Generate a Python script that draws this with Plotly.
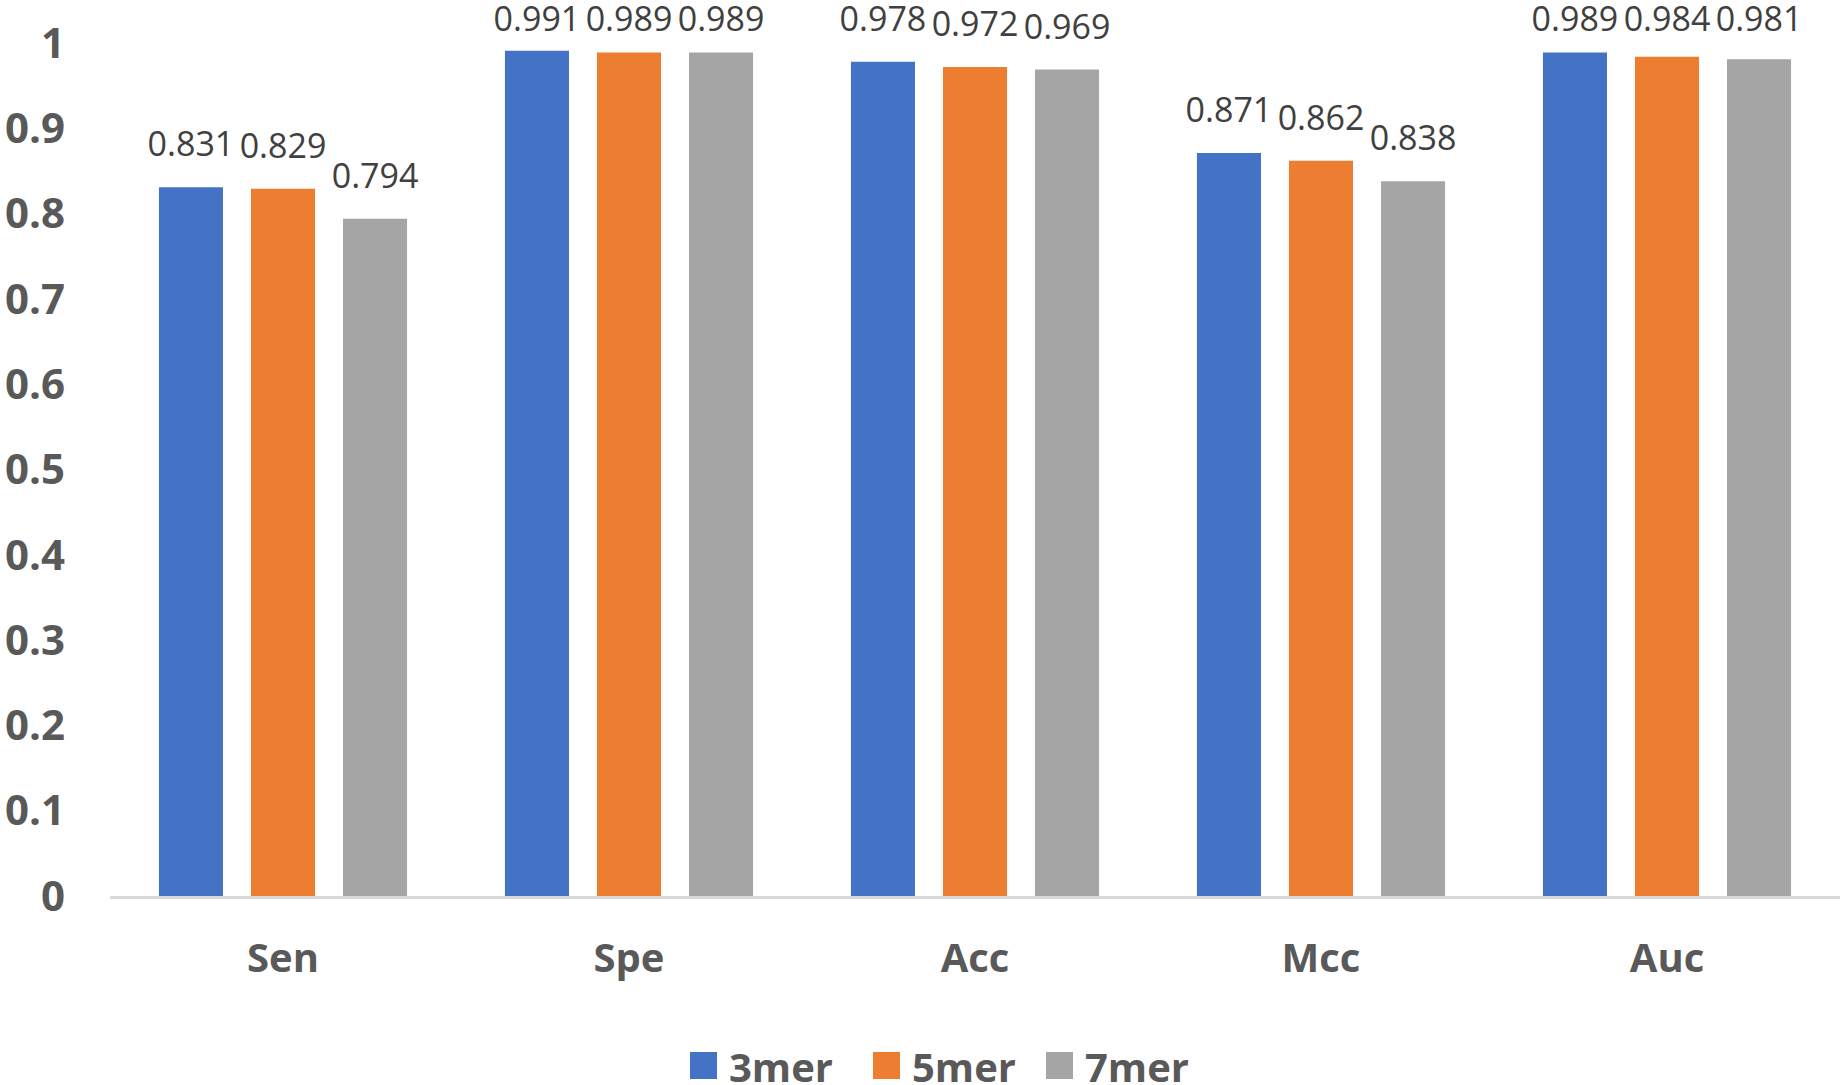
import plotly.graph_objects as go

categories = ["Sen", "Spe", "Acc", "Mcc", "Auc"]
series_names = ["3mer", "5mer", "7mer"]
vals_3mer = [0.831, 0.991, 0.978, 0.871, 0.989]
vals_5mer = [0.829, 0.989, 0.972, 0.862, 0.984]
vals_7mer = [0.794, 0.989, 0.969, 0.838, 0.981]
colors = ["#4472C4", "#ED7D31", "#A5A5A5"]
y_ticks = [0, 0.1, 0.2, 0.3, 0.4, 0.5, 0.6, 0.7, 0.8, 0.9, 1]
y_ticktext = ["0", "0.1", "0.2", "0.3", "0.4", "0.5", "0.6", "0.7", "0.8", "0.9", "1"]

FONT = "Open Sans"
W, H = 1845, 1085
ML, MR, MT, MB = 110, 5, 43, 189
PW, PH = W - ML - MR, H - MT - MB
LABEL_CAP = 0.978  # data labels are kept inside the chart area (like Excel)

fig = go.Figure()
for name, vals, col in zip(series_names, [vals_3mer, vals_5mer, vals_7mer], colors):
    fig.add_trace(go.Bar(
        x=categories, y=vals, name=name, marker=dict(color=col, line=dict(width=0)),
        offsetgroup=name, alignmentgroup="g", showlegend=False,
    ))
for name, vals in zip(series_names, [vals_3mer, vals_5mer, vals_7mer]):
    fig.add_trace(go.Scatter(
        x=categories, y=[min(v, LABEL_CAP) for v in vals], mode="markers+text",
        offsetgroup=name, alignmentgroup="g",
        text=[f"{v:.3f}" for v in vals], textposition="top center",
        textfont=dict(family=FONT, size=34, color="#404040"),
        marker=dict(size=34, opacity=0), showlegend=False, hoverinfo="skip",
        cliponaxis=False,
    ))

# manual legend (large square swatches like the reference)
legend_sq_left = [690, 873, 1046]
for name, col, sx in zip(series_names, colors, legend_sq_left):
    x0 = (sx - ML) / PW
    x1 = (sx + 27 - ML) / PW
    fig.add_shape(type="rect", xref="paper", yref="paper",
                  x0=x0, x1=x1, y0=(H - MB - 1079) / PH, y1=(H - MB - 1052) / PH,
                  fillcolor=col, line=dict(width=0))
    fig.add_annotation(xref="paper", yref="paper", x=(sx + 37 - ML) / PW,
                       y=(H - MB - 1066) / PH, xanchor="left", yanchor="middle",
                       text=name, showarrow=False,
                       font=dict(family=FONT, size=40, color="#595959", weight="bold"))

fig.update_layout(
    width=W, height=H,
    margin=dict(l=ML, r=MR, t=MT, b=MB, autoexpand=False),
    paper_bgcolor="white", plot_bgcolor="white",
    barmode="group", bargap=0.202, bargroupgap=0.304,
    scattermode="group", scattergap=0.202,
    font=dict(family=FONT, color="#595959"),
    showlegend=False,
    xaxis=dict(showline=True, linecolor="#D9D9D9", linewidth=2.5, showgrid=False,
               tickfont=dict(family=FONT, size=40, color="#595959", weight="bold"),
               ticks="", ticklabelstandoff=25, automargin=False),
    yaxis=dict(range=[0, 1], tickvals=y_ticks, ticktext=y_ticktext, showgrid=False,
               zeroline=False, showline=False, ticks="",
               tickfont=dict(family=FONT, size=42, color="#595959", weight="bold"),
               ticklabelstandoff=44, automargin=False),
)
fig.write_html("out.html", config={"displayModeBar": False},
               post_script="document.body.style.margin='0';document.body.style.padding='0';"
                           "document.body.style.overflow='hidden';")
